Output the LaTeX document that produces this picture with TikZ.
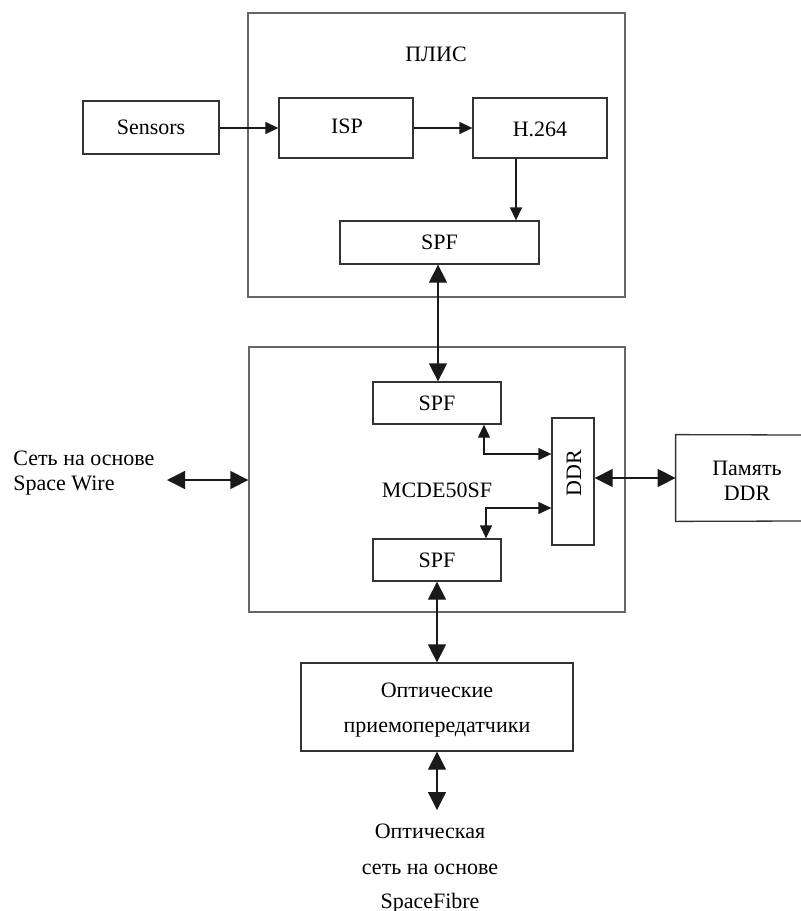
\documentclass[tikz,border=0pt]{standalone}
\usepackage{fontspec}
\setmainfont{Liberation Serif}
\usetikzlibrary{arrows.meta,fit}
\begin{document}
\begin{tikzpicture}[x=0.5pt,y=-0.5pt,
  font=\fontsize{11}{13}\selectfont,
  outerbox/.style={draw=black!60, line width=0.65pt, inner sep=0pt},
  blk/.style={draw=black!80, line width=0.65pt, inner sep=0pt},
  plain/.style={inner sep=0pt},
  conn/.style={line width=0.65pt, draw=black!90},
  sm/.style={-{Triangle[length=6.5pt,width=6pt]}},
  smd/.style={{Triangle[length=6.5pt,width=6pt]}-{Triangle[length=6.5pt,width=6pt]}},
  bigd/.style={{Triangle[length=9pt,width=9pt]}-{Triangle[length=9pt,width=9pt]}},
  lbl/.style={inner sep=0pt, anchor=base}]
\useasboundingbox (0,0) rectangle (801,911);

% outer boxes
\node[outerbox, fit={(248,13) (625,297)}] (plis) {};
\node[outerbox, fit={(249,347) (625,612)}] (mcde) {};
\node[lbl] (plislbl) at (436,61) {ПЛИС};
\node[lbl] (mcdelbl) at (437,497) {MCDE50SF};

% blocks
\node[blk, fit={(83,101) (219,154)}] (sensors) {};
\node[plain] at (sensors.center) {Sensors};
\node[blk, fit={(279,98) (413,158)}] (isp) {};
\node[plain] at (347,126) {ISP};
\node[blk, fit={(473,98) (607,158)}] (h264) {};
\node[plain] at (540,129) {H.264};
\node[blk, fit={(340,221) (539,264)}] (spfa) {};
\node[plain] at (spfa.center) {SPF};
\node[blk, fit={(373,382) (501,424)}] (spfb) {};
\node[plain] at (spfb.center) {SPF};
\node[blk, fit={(373,539) (501,581)}] (spfc) {};
\node[plain] at (spfc.center) {SPF};
\node[blk, fit={(552,418) (594,545)}] (ddr) {};
\node[plain, rotate=90] at (574,473) {DDR};
\node[blk, fit={(301,663) (573,751)}] (opt) {};
\node[lbl] at (437,697) {Оптические};
\node[lbl] at (437,732) {приемопередатчики};

% memory box (right side cut by the border)
\node[plain, fit={(676,435) (818,521)}] (mem) {};
\draw[draw=black!80, line width=0.65pt] (801,435) -- (mem.north west) -- (mem.south west) -- (801,521);
\node[lbl] at (747,475) {Память};
\node[lbl] at (747,500) {DDR};

% free texts
\node[lbl, anchor=base west] at (13,465) {Сеть на основе};
\node[lbl, anchor=base west] at (13,490) {Space Wire};
\node[lbl] at (430,838) {Оптическая};
\node[lbl] at (430,874) {сеть на основе};
\node[lbl] at (430,908) {SpaceFibre};

% helper coordinates
\coordinate (xh) at (516,0);
\coordinate (xv) at (438,0);
\coordinate (e1) at (484,454);
\coordinate (e2) at (486,508);
\coordinate (ym) at (0,478);
\coordinate (sw) at (167,480);
\coordinate (fib) at (437,810);

% connectors
\draw[conn,sm] (sensors.east |- 0,128) -- (isp.west |- 0,128);
\draw[conn,sm] (isp.east |- 0,128) -- (h264.west |- 0,128);
\draw[conn,sm] (h264.south -| xh) -- (spfa.north -| xh);
\draw[conn,bigd] (spfa.south -| xv) -- (spfb.north -| xv);
\draw[conn,smd] (spfb.south -| e1) |- (ddr.west |- e1);
\draw[conn,smd] (spfc.north -| e2) |- (ddr.west |- e2);
\draw[conn,bigd] (ddr.east |- ym) -- (mem.west |- ym);
\draw[conn,bigd] (sw) -- (mcde.west |- sw);
\draw[conn,bigd] (spfc.south -| fib) -- (opt.north -| fib);
\draw[conn,bigd] (opt.south -| fib) -- (fib);
\end{tikzpicture}
\end{document}
